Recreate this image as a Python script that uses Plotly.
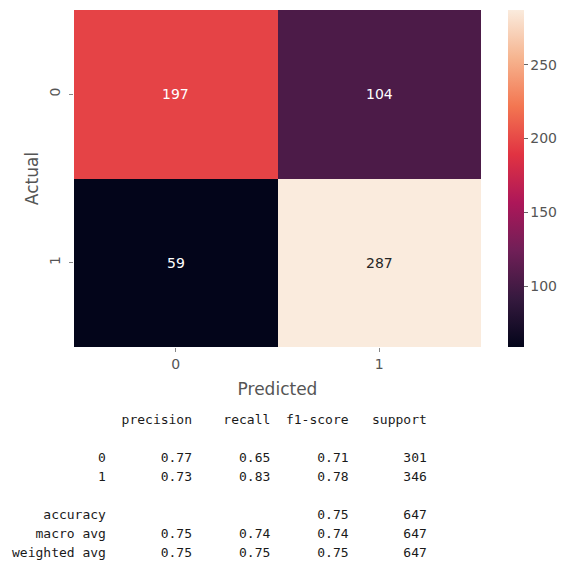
import plotly.graph_objects as go

# Confusion matrix
classes = ["0", "1"]
confusion = [[197, 104],
             [59, 287]]

# Classification report values
report_labels = ["0", "1"]
precision = [0.77, 0.73]
recall = [0.65, 0.83]
f1_score = [0.71, 0.78]
support = [301, 346]
accuracy = 0.75
total_support = 647
macro_avg = [0.75, 0.74, 0.74]
weighted_avg = [0.75, 0.75, 0.75]

# "rocket" style sequential colour map
rocket = [
    [0.0, "#03051a"],
    [1 / 7, "#35193e"],
    [2 / 7, "#701f57"],
    [3 / 7, "#ad1759"],
    [4 / 7, "#e13342"],
    [5 / 7, "#f37651"],
    [6 / 7, "#f6b48f"],
    [1.0, "#faebdd"],
]

flat = [v for row in confusion for v in row]
zmin, zmax = min(flat), max(flat)


def hex_rgb(h):
    h = h.lstrip("#")
    return [int(h[i:i + 2], 16) / 255 for i in (0, 2, 4)]


def cmap(t):
    for (t0, c0), (t1, c1) in zip(rocket[:-1], rocket[1:]):
        if t <= t1:
            f = 0 if t1 == t0 else (t - t0) / (t1 - t0)
            a, b = hex_rgb(c0), hex_rgb(c1)
            return [a[i] + (b[i] - a[i]) * f for i in range(3)]
    return hex_rgb(rocket[-1][1])


def luminance(rgb):
    lin = [c / 12.92 if c <= 0.03928 else ((c + 0.055) / 1.055) ** 2.4 for c in rgb]
    return 0.2126 * lin[0] + 0.7152 * lin[1] + 0.0722 * lin[2]


tick_font = dict(family="DejaVu Sans", size=14, color="#555555")
title_font = dict(family="DejaVu Sans", size=17, color="#555555")

fig = go.Figure(
    go.Heatmap(
        z=confusion,
        x=classes,
        y=classes,
        zmin=zmin,
        zmax=zmax,
        colorscale=rocket,
        hoverongaps=False,
        colorbar=dict(
            thickness=16,
            len=1,
            lenmode="fraction",
            x=(508 - 74) / 408,
            xanchor="left",
            y=0.5,
            yanchor="middle",
            xpad=0,
            ypad=0,
            outlinewidth=0,
            tickvals=[100, 150, 200, 250],
            tickprefix="\u00a0",
            ticks="outside",
            ticklen=4,
            tickwidth=1,
            tickcolor="#666666",
            tickfont=tick_font,
        ),
    )
)

# Cell counts
for i, row_name in enumerate(classes):
    for j, col_name in enumerate(classes):
        val = confusion[i][j]
        rgb = cmap((val - zmin) / (zmax - zmin))
        color = "#262626" if luminance(rgb) > 0.408 else "#ffffff"
        fig.add_annotation(
            x=col_name, y=row_name, xref="x", yref="y",
            text=str(val), showarrow=False,
            font=dict(family="DejaVu Sans", size=14, color=color),
        )

# Text classification report below the matrix
width = 12
lines = [
    f"{'':>{width}} " + "".join(f" {h:>9}" for h in ["precision", "recall", "f1-score", "support"]),
    "",
]
for k, lab in enumerate(report_labels):
    lines.append(f"{lab:>{width}} " + f" {precision[k]:>9.2f}" + f" {recall[k]:>9.2f}"
                 + f" {f1_score[k]:>9.2f}" + f" {support[k]:>9}")
lines.append("")
lines.append(f"{'accuracy':>{width}} " + f" {'':>9}" * 2 + f" {accuracy:>9.2f}" + f" {total_support:>9}")
lines.append(f"{'macro avg':>{width}} " + "".join(f" {v:>9.2f}" for v in macro_avg) + f" {total_support:>9}")
lines.append(f"{'weighted avg':>{width}} " + "".join(f" {v:>9.2f}" for v in weighted_avg) + f" {total_support:>9}")

plot_left, plot_bottom = 74, 347
first_line_y, line_step = 419, 19
for n, line in enumerate(lines):
    if not line.strip():
        continue
    fig.add_annotation(
        x=0, y=0, xref="paper", yref="paper",
        xanchor="left", yanchor="middle",
        xshift=10 - plot_left,
        yshift=-(first_line_y + n * line_step - plot_bottom),
        text=line.replace(" ", "\u00a0"),
        showarrow=False,
        align="left",
        font=dict(family="DejaVu Sans Mono", size=13, color="#1a1a1a"),
    )

fig.update_xaxes(
    type="category",
    title=dict(text="Predicted", font=title_font, standoff=12),
    tickfont=tick_font,
    ticks="outside", ticklen=4, tickcolor="#888888",
    showgrid=False, zeroline=False, showline=False,
)
fig.update_yaxes(
    type="category",
    autorange="reversed",
    title=dict(text="Actual", font=title_font, standoff=4),
    tickfont=tick_font,
    tickangle=-90,
    ticklabelstandoff=3,
    ticks="outside", ticklen=4, tickcolor="#888888",
    showgrid=False, zeroline=False, showline=False,
)

fig.update_layout(
    width=566,
    height=562,
    margin=dict(l=74, r=84, t=10, b=215),
    paper_bgcolor="white",
    plot_bgcolor="white",
    showlegend=False,
)

fig.write_html("out.html")
